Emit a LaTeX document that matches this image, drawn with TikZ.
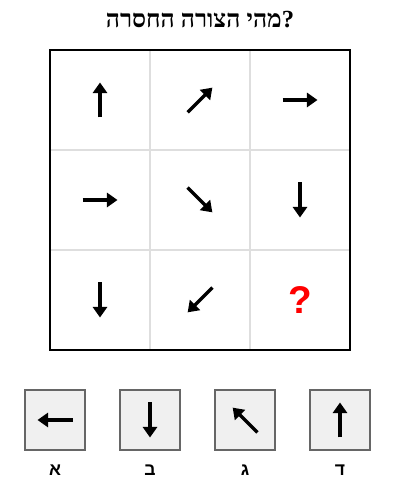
\documentclass[tikz,border=0pt]{standalone}
\usepackage{fontspec}
\setmainfont{Liberation Sans}
\newfontfamily\hebserif[Script=Hebrew]{Liberation Serif}
\newfontfamily\hebsans[Script=Hebrew]{Liberation Sans}
\TeXXeTstate=1
\usetikzlibrary{calc,arrows.meta}

\tikzset{
  pil/.style={line width=2pt,-{Triangle[width=8pt,length=6pt]}},
  gridline/.style={draw=black!13,line width=1.1pt},
  optbox/.style={draw=black!60,fill=black!6,line width=0.9pt,minimum size=1.2cm,inner sep=0pt},
}

\begin{document}
\begin{tikzpicture}[x=0.02cm,y=0.02cm]
    \useasboundingbox (0,0) rectangle (400,500);
    \fill[white] (0,0) rectangle (400,500);

    % title
    \node[font=\hebserif\bfseries\fontsize{14}{16}\selectfont] (title) at (200,480)
        {\beginR מהי הצורה החסרה\endR?};

    % grid 3x3
    \coordinate (NW) at (50,450);
    \coordinate (SE) at (350,150);
    \foreach \i in {1,2}
    {
        \draw[gridline] (50+100*\i,450) -- (50+100*\i,150);
        \draw[gridline] (50,450-100*\i) -- (350,450-100*\i);
    };
    \draw[line width=1.3pt] (NW) rectangle (SE);

    % cell centres
    \foreach \r in {0,1,2}
    {
        \foreach \c in {0,1,2}
        {
            \coordinate (c\r\c) at (100+100*\c,400-100*\r);
        };
    };

    \foreach \v/\a in
    {c00/90,
     c01/45,
     c02/0,
     c10/0,
     c11/-45,
     c12/-90,
     c20/-90,
     c21/-135
    }
    {
        \draw[pil] ($(\v)+(\a:-17.5)$) -- ($(\v)+(\a:17.5)$);
    };

    \node[text=red,font=\bfseries\fontsize{22}{22}\selectfont] (q) at (c22) {?};

    % answer options
    \foreach \n/\x/\a/\t in
    {1/55/180/א,
     2/150/-90/ב,
     3/245/135/ג,
     4/340/90/ד
    }
    {
        \node[optbox] (opt\n) at (\x,80) {};
        \draw[pil] ($(opt\n)+(\a:-17.5)$) -- ($(opt\n)+(\a:17.5)$);
        \node[font=\hebsans\bfseries\fontsize{10}{12}\selectfont] (lab\n) at (\x,30) {\t};
    };
\end{tikzpicture}
\end{document}
